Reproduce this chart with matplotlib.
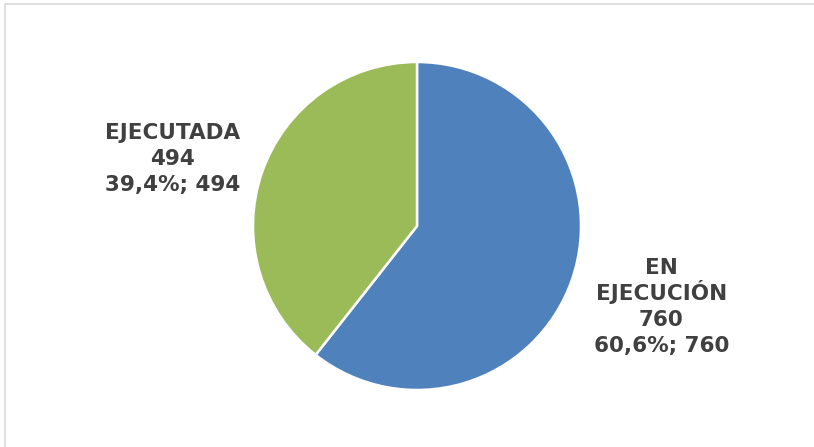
import numpy as np
import matplotlib
matplotlib.use("Agg")
import matplotlib.pyplot as plt
from matplotlib.patches import Rectangle

categories = ["EN\nEJECUCIÓN", "EJECUTADA"]
values = [760, 494]
colors = ["#4F81BD", "#9BBB59"]

W, H = 814, 447
fig = plt.figure(figsize=(W / 100, H / 100), dpi=100)
fig.patch.set_facecolor("white")

# light chart-area frame (cut off at right/bottom like the original)
fig.add_artist(Rectangle((4.5 / W, -0.1), 2, 1.1 - 4.5 / H, transform=fig.transFigure,
                         fill=False, edgecolor="#D9D9D9", linewidth=1.2))

cx, cy, r = 417, 226, 164
ax = fig.add_axes([(cx - r) / W, (H - cy - r) / H, 2 * r / W, 2 * r / H])
wedges, _ = ax.pie(values, colors=colors, startangle=90, counterclock=False, radius=1,
                   wedgeprops=dict(edgecolor="white", linewidth=1.8))
ax.set_xlim(-1, 1)
ax.set_ylim(-1, 1)
ax.set_aspect("equal")
ax.axis("off")

total = sum(values)
label_pos = [(1.49, -0.482), (-1.49, 0.42)]
step = 0.157     # line spacing in pie radii
half_cap = 0.048  # baseline sits half a cap height below the line centre
for cat, v, (lx, ly) in zip(categories, values, label_pos):
    pct = f"{100 * v / total:.1f}".replace(".", ",")
    lines = cat.split("\n") + [str(v), f"{pct}%; {v}"]
    top = ly + step * (len(lines) - 1) / 2
    for i, line in enumerate(lines):
        ax.text(lx, top - i * step - half_cap, line, ha="center", va="baseline",
                fontsize=15.5, fontweight="bold", color="#404040",
                family="DejaVu Sans", clip_on=False)

fig.savefig("out.png", dpi=100, facecolor="white")
